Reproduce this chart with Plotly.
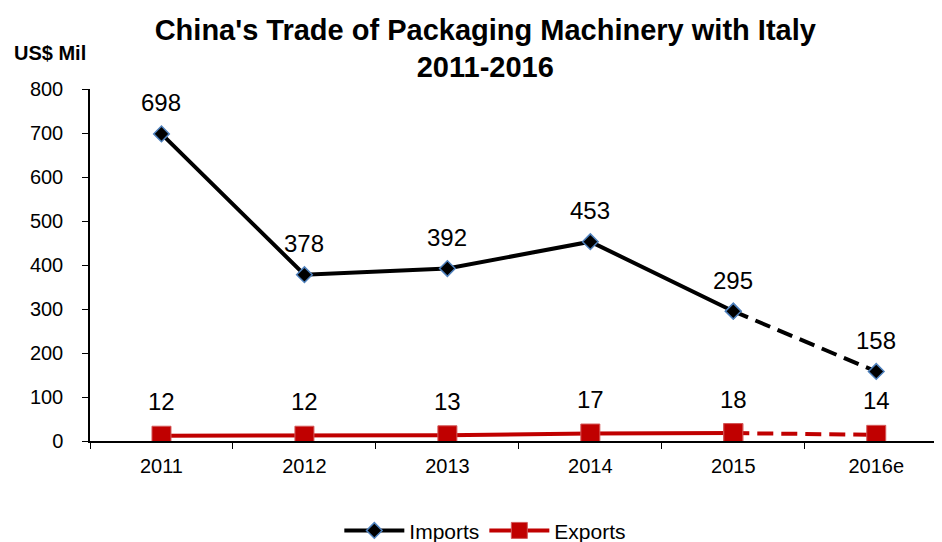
import plotly.graph_objects as go

years = ["2011", "2012", "2013", "2014", "2015", "2016e"]
imports = [698, 378, 392, 453, 295, 158]
exports = [12, 12, 13, 17, 18, 14]

BLACK = "#000000"
RED = "#c00000"
BLUE = "#4f81bd"
FONT = "Liberation Sans, Arial, sans-serif"

fig = go.Figure()

imp_marker = dict(symbol="diamond", size=12, color=BLACK, line=dict(color=BLUE, width=1.5))
exp_marker = dict(symbol="square", size=19, color=RED, line=dict(color="#d45a5a", width=1))
DASH = "16px,8px"

fig.add_trace(go.Scatter(x=years[:5], y=imports[:5], name="Imports", mode="lines+markers",
                         line=dict(color=BLACK, width=4), marker=imp_marker))
fig.add_trace(go.Scatter(x=years[4:], y=imports[4:], name="Imports", mode="lines+markers",
                         line=dict(color=BLACK, width=4, dash=DASH), marker=imp_marker,
                         showlegend=False))
fig.add_trace(go.Scatter(x=years[:5], y=exports[:5], name="Exports", mode="lines+markers",
                         line=dict(color=RED, width=4), marker=exp_marker))
fig.add_trace(go.Scatter(x=years[4:], y=exports[4:], name="Exports", mode="lines+markers",
                         line=dict(color=RED, width=4, dash=DASH), marker=exp_marker,
                         showlegend=False))

for i, v in enumerate(imports):
    fig.add_annotation(x=i, y=v, text=str(v), showarrow=False, yshift=31,
                       font=dict(family=FONT, size=24, color=BLACK))
for i, v in enumerate(exports):
    fig.add_annotation(x=i, y=v, text=str(v), showarrow=False, yshift=34,
                       font=dict(family=FONT, size=24, color=BLACK))

fig.add_annotation(xref="paper", yref="paper", x=-0.047, y=1.102, xanchor="center",
                   yanchor="middle", text="<b>US$ Mil</b>", showarrow=False,
                   font=dict(family=FONT, size=20, color=BLACK))

# page body adds an 8px offset; figure is sized to fill the remaining window
fig.update_layout(
    width=934, height=534,
    margin=dict(l=82, r=0, t=81, b=101, autoexpand=False),
    paper_bgcolor="white", plot_bgcolor="white",
    title=dict(text="<b>China's Trade of Packaging Machinery with Italy<br>2011-2016</b>",
               x=0.511, xanchor="center", y=0.941, yanchor="top",
               font=dict(family=FONT, size=29, color=BLACK)),
    font=dict(family=FONT, color=BLACK),
    showlegend=True,
    legend=dict(orientation="h", x=0.464, xanchor="center", y=-0.255, yanchor="middle",
                font=dict(family=FONT, size=21, color=BLACK), itemwidth=60),
    xaxis=dict(type="category", range=[-0.5, 5.46], showgrid=False, showline=True,
               linecolor=BLACK, linewidth=1.5, ticks="outside", tickson="boundaries",
               ticklen=6, tickcolor=BLACK, tickfont=dict(size=20, color=BLACK),
               automargin=False, ticklabelstandoff=6),
    yaxis=dict(range=[0, 800], dtick=100, showgrid=False, showline=True, zeroline=False,
               linecolor=BLACK, linewidth=1.5, ticks="outside", ticklen=6, tickcolor=BLACK,
               tickfont=dict(size=20, color=BLACK), automargin=False, ticklabelstandoff=15),
)

fig.write_html("out.html")
